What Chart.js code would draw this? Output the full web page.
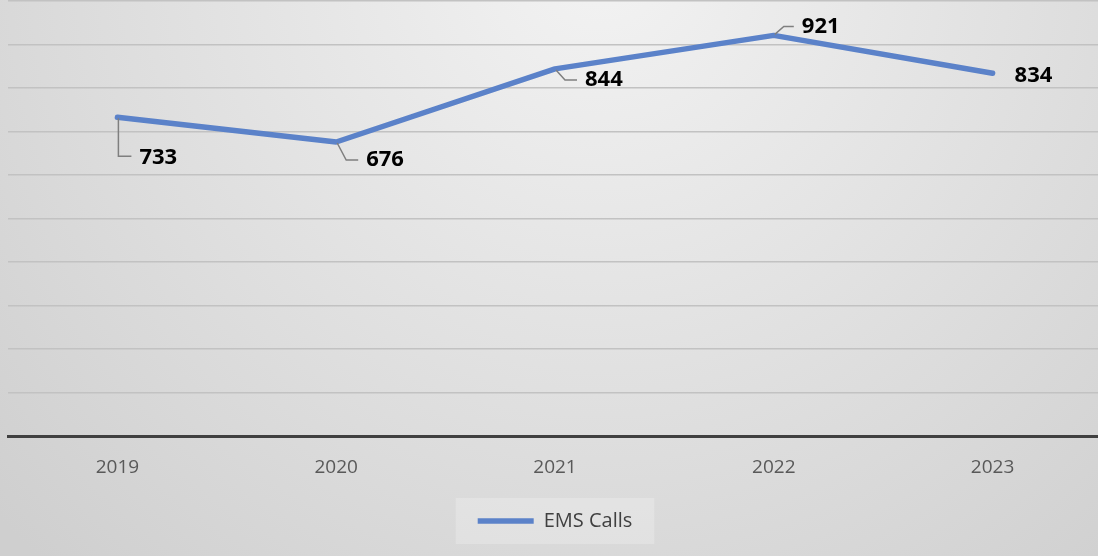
<!DOCTYPE html>
<html>
<head>
<meta charset="utf-8">
<script src="https://cdn.jsdelivr.net/npm/chart.js@4.4.1/dist/chart.umd.min.js"></script>
<style>
  html, body { margin: 0; padding: 0; overflow: hidden; background: #d8d8d8; }
  #wrap { width: 1104px; height: 556px; }
</style>
</head>
<body>
<div id="wrap"><canvas id="chart"></canvas></div>
<script>
// chart data
const years = ['2019', '2020', '2021', '2022', '2023'];
const emsCalls = [733, 676, 844, 921, 834];
const seriesName = 'EMS Calls';

// where each value label sits relative to its point (dx, dy) and whether it gets a leader line
const labelOffsets = [
    { dx: 22, dy: 41, leader: true },
    { dx: 30, dy: 18, leader: true },
    { dx: 30, dy: 11, leader: true },
    { dx: 28, dy: -9, leader: true },
    { dx: 22, dy: 2, leader: false }
];

const bgPlugin = {
    id: 'bgPlugin',
    beforeDraw(chart) {
        const ctx = chart.ctx;
        const w = chart.width, h = chart.height;
        const g = ctx.createRadialGradient(600, -40, 20, 600, -40, 820);
        g.addColorStop(0, '#f2f2f2');
        g.addColorStop(1, '#cfcfcf');
        ctx.save();
        ctx.fillStyle = g;
        ctx.fillRect(0, 0, w, h);

        // light box behind the legend
        const legend = chart.legend;
        if (legend && legend.legendHitBoxes.length) {
            const hb = legend.legendHitBoxes[0];
            ctx.fillStyle = 'rgba(255,255,255,0.22)';
            ctx.fillRect(hb.left - 22, hb.top - 13, hb.width + 44, hb.height + 26);
        }
        ctx.restore();
    }
};

const valueLabels = {
    id: 'valueLabels',
    afterDatasetsDraw(chart) {
        const ctx = chart.ctx;
        const meta = chart.getDatasetMeta(0);
        ctx.save();
        ctx.font = 'bold 22px "Open Sans", sans-serif';
        ctx.textBaseline = 'middle';
        ctx.fillStyle = '#000';
        meta.data.forEach((pt, i) => {
            const o = labelOffsets[i];
            const lx = pt.x + o.dx;
            const ly = pt.y + o.dy;
            if (o.leader) {
                ctx.strokeStyle = '#7f7f7f';
                ctx.lineWidth = 1.5;
                ctx.beginPath();
                if (i === 0) {
                    ctx.moveTo(pt.x + 1, pt.y + 1);
                    ctx.lineTo(pt.x + 1, ly - 2);
                    ctx.lineTo(lx - 8, ly - 2);
                } else {
                    const dir = o.dy > 0 ? 1 : -1;
                    ctx.moveTo(pt.x + 1, pt.y + dir * 1);
                    ctx.lineTo(pt.x + 10, ly);
                    ctx.lineTo(lx - 8, ly);
                }
                ctx.stroke();
            }
            ctx.fillText(emsCalls[i], lx, ly);
        });
        ctx.restore();
    }
};

new Chart(document.getElementById('chart'), {
    type: 'line',
    data: {
        labels: years,
        datasets: [{
            label: seriesName,
            data: emsCalls,
            borderColor: '#5b82c9',
            backgroundColor: '#5b82c9',
            borderWidth: 5.5,
            pointRadius: 0,
            tension: 0,
            borderCapStyle: 'round',
            borderJoinStyle: 'round'
        }]
    },
    options: {
        responsive: true,
        maintainAspectRatio: false,
        animation: false,
        layout: { padding: { left: 8, right: 2, top: 1, bottom: 15 } },
        scales: {
            x: {
                offset: true,
                grid: { display: false },
                border: { display: true, color: '#404040', width: 3 },
                ticks: {
                    color: '#595959',
                    font: { family: '"Open Sans", sans-serif', size: 19 },
                    padding: 12
                },
                afterFit(scale) {
                    // extra room under the year labels
                    scale.height += 5;
                }
            },
            y: {
                min: 0,
                max: 1000,
                ticks: { stepSize: 100, display: false },
                border: { display: false },
                grid: { color: '#c2c2c2', lineWidth: 1.5, drawTicks: false }
            }
        },
        plugins: {
            legend: {
                position: 'bottom',
                labels: {
                    usePointStyle: true,
                    pointStyle: 'line',
                    pointStyleWidth: 56,
                    boxHeight: 18,
                    color: '#404040',
                    font: { family: '"Open Sans", sans-serif', size: 20 },
                    padding: 15
                }
            },
            tooltip: { enabled: false }
        }
    },
    plugins: [bgPlugin, valueLabels]
});
</script>
</body>
</html>
